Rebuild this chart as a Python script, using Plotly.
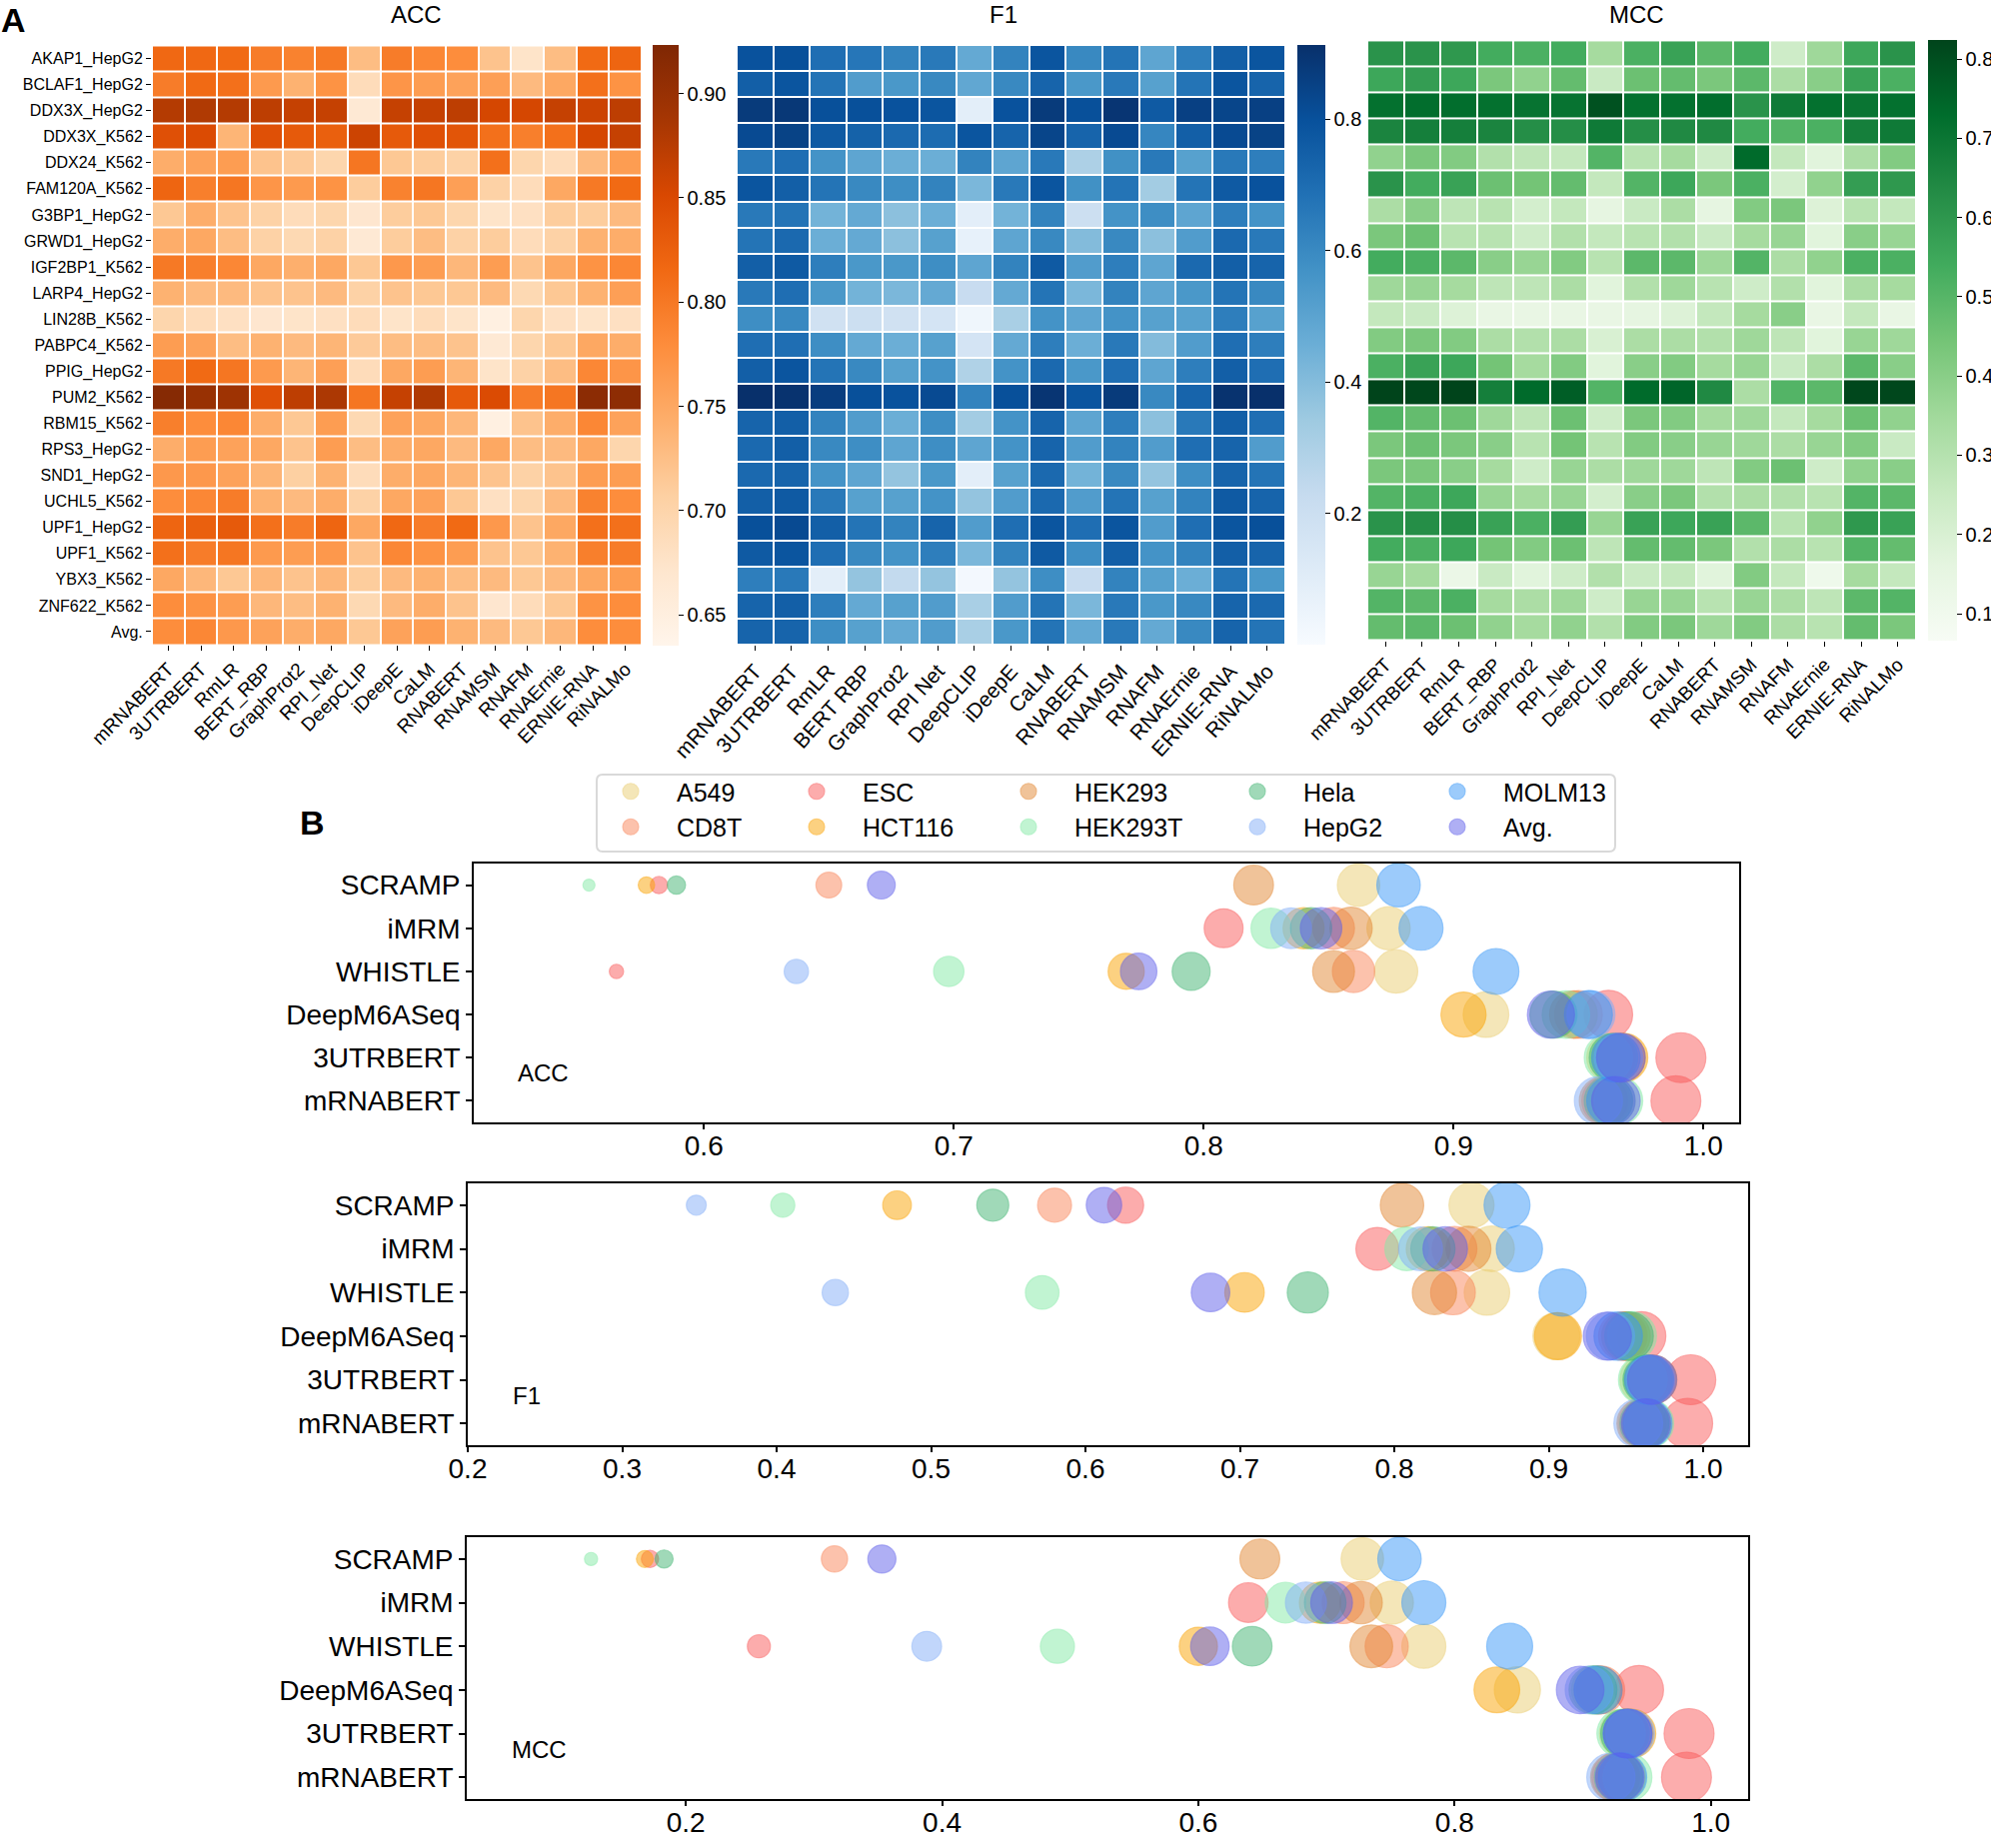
import math
import plotly.graph_objects as go
from plotly.colors import sequential

W, H = 1992, 1849
FONT = "Liberation Sans, Arial, sans-serif"


def fx(px):
    return px / W


def fy(py):
    return 1 - py / H


# ---------------- Panel A data ----------------
rbp_labels = ["AKAP1_HepG2", "BCLAF1_HepG2", "DDX3X_HepG2", "DDX3X_K562", "DDX24_K562",
              "FAM120A_K562", "G3BP1_HepG2", "GRWD1_HepG2", "IGF2BP1_K562", "LARP4_HepG2",
              "LIN28B_K562", "PABPC4_K562", "PPIG_HepG2", "PUM2_K562", "RBM15_K562",
              "RPS3_HepG2", "SND1_HepG2", "UCHL5_K562", "UPF1_HepG2", "UPF1_K562",
              "YBX3_K562", "ZNF622_K562", "Avg."]
hm_methods = ["mRNABERT", "3UTRBERT", "RmLR", "BERT_RBP", "GraphProt2", "RPI_Net", "DeepCLIP",
              "iDeepE", "CaLM", "RNABERT", "RNAMSM", "RNAFM", "RNAErnie", "ERNIE-RNA", "RiNALMo"]
# the F1 panel prints these names with a space instead of the underscore
hm_methods_f1_text = ["mRNABERT", "3UTRBERT", "RmLR", "BERT RBP", "GraphProt2", "RPI Net",
                      "DeepCLIP", "iDeepE", "CaLM", "RNABERT", "RNAMSM", "RNAFM", "RNAErnie",
                      "ERNIE-RNA", "RiNALMo"]

acc_hm = [
    [0.816, 0.816, 0.814, 0.796, 0.790, 0.799, 0.727, 0.796, 0.785, 0.779, 0.721, 0.675, 0.727, 0.814, 0.819],
    [0.796, 0.814, 0.808, 0.765, 0.739, 0.773, 0.687, 0.770, 0.762, 0.756, 0.759, 0.730, 0.750, 0.808, 0.773],
    [0.877, 0.880, 0.877, 0.871, 0.865, 0.865, 0.664, 0.865, 0.865, 0.871, 0.854, 0.854, 0.865, 0.860, 0.871],
    [0.842, 0.848, 0.736, 0.842, 0.831, 0.825, 0.860, 0.831, 0.842, 0.837, 0.808, 0.793, 0.808, 0.854, 0.865],
    [0.744, 0.756, 0.762, 0.721, 0.713, 0.698, 0.802, 0.716, 0.710, 0.704, 0.808, 0.698, 0.687, 0.730, 0.762],
    [0.819, 0.793, 0.802, 0.770, 0.765, 0.773, 0.710, 0.790, 0.802, 0.759, 0.704, 0.687, 0.750, 0.799, 0.814],
    [0.716, 0.744, 0.721, 0.704, 0.687, 0.698, 0.670, 0.710, 0.716, 0.698, 0.675, 0.681, 0.710, 0.710, 0.730],
    [0.744, 0.750, 0.727, 0.704, 0.693, 0.704, 0.664, 0.710, 0.727, 0.704, 0.710, 0.687, 0.704, 0.739, 0.744],
    [0.799, 0.793, 0.785, 0.750, 0.742, 0.750, 0.716, 0.767, 0.762, 0.733, 0.762, 0.721, 0.750, 0.773, 0.785],
    [0.739, 0.730, 0.730, 0.721, 0.721, 0.730, 0.704, 0.721, 0.716, 0.716, 0.730, 0.693, 0.716, 0.739, 0.759],
    [0.698, 0.687, 0.681, 0.670, 0.675, 0.681, 0.687, 0.675, 0.687, 0.675, 0.647, 0.698, 0.681, 0.675, 0.681],
    [0.762, 0.756, 0.727, 0.739, 0.730, 0.736, 0.713, 0.727, 0.727, 0.721, 0.664, 0.698, 0.716, 0.750, 0.744],
    [0.799, 0.814, 0.802, 0.765, 0.736, 0.759, 0.687, 0.750, 0.762, 0.736, 0.675, 0.704, 0.727, 0.785, 0.770],
    [0.917, 0.900, 0.894, 0.842, 0.871, 0.883, 0.802, 0.865, 0.880, 0.831, 0.848, 0.796, 0.802, 0.911, 0.909],
    [0.793, 0.779, 0.785, 0.744, 0.716, 0.762, 0.693, 0.756, 0.750, 0.733, 0.647, 0.721, 0.744, 0.785, 0.756],
    [0.744, 0.762, 0.756, 0.750, 0.721, 0.762, 0.727, 0.744, 0.750, 0.730, 0.750, 0.727, 0.730, 0.750, 0.698],
    [0.767, 0.767, 0.756, 0.736, 0.707, 0.739, 0.687, 0.744, 0.750, 0.736, 0.721, 0.704, 0.721, 0.762, 0.762],
    [0.779, 0.785, 0.796, 0.739, 0.730, 0.744, 0.704, 0.750, 0.756, 0.716, 0.681, 0.698, 0.730, 0.790, 0.779],
    [0.819, 0.825, 0.831, 0.808, 0.796, 0.819, 0.750, 0.816, 0.796, 0.814, 0.767, 0.721, 0.750, 0.808, 0.808],
    [0.808, 0.796, 0.802, 0.765, 0.762, 0.767, 0.721, 0.785, 0.773, 0.762, 0.721, 0.716, 0.739, 0.793, 0.796],
    [0.750, 0.733, 0.716, 0.733, 0.721, 0.733, 0.710, 0.730, 0.739, 0.727, 0.730, 0.716, 0.730, 0.750, 0.762],
    [0.779, 0.773, 0.762, 0.733, 0.727, 0.739, 0.693, 0.730, 0.744, 0.721, 0.670, 0.687, 0.716, 0.773, 0.779],
    [0.779, 0.785, 0.767, 0.756, 0.744, 0.750, 0.716, 0.756, 0.762, 0.739, 0.730, 0.716, 0.733, 0.779, 0.779],
]

f1_hm = [
    [0.794, 0.803, 0.694, 0.666, 0.621, 0.657, 0.475, 0.621, 0.785, 0.603, 0.676, 0.493, 0.639, 0.749, 0.785],
    [0.749, 0.785, 0.676, 0.530, 0.548, 0.603, 0.484, 0.603, 0.730, 0.548, 0.657, 0.511, 0.676, 0.785, 0.730],
    [0.876, 0.886, 0.803, 0.803, 0.794, 0.785, 0.091, 0.794, 0.876, 0.803, 0.895, 0.767, 0.858, 0.840, 0.858],
    [0.822, 0.849, 0.767, 0.740, 0.712, 0.703, 0.785, 0.730, 0.840, 0.730, 0.822, 0.612, 0.749, 0.822, 0.849],
    [0.657, 0.694, 0.566, 0.493, 0.457, 0.457, 0.621, 0.493, 0.657, 0.301, 0.575, 0.657, 0.511, 0.657, 0.639],
    [0.785, 0.749, 0.676, 0.603, 0.584, 0.621, 0.420, 0.657, 0.785, 0.575, 0.676, 0.329, 0.676, 0.767, 0.794],
    [0.657, 0.676, 0.438, 0.475, 0.383, 0.457, 0.091, 0.438, 0.621, 0.201, 0.566, 0.584, 0.493, 0.639, 0.566],
    [0.676, 0.712, 0.457, 0.475, 0.383, 0.511, 0.073, 0.493, 0.603, 0.402, 0.603, 0.383, 0.530, 0.712, 0.657],
    [0.749, 0.767, 0.639, 0.548, 0.548, 0.584, 0.493, 0.621, 0.767, 0.530, 0.639, 0.493, 0.712, 0.749, 0.730],
    [0.657, 0.694, 0.548, 0.438, 0.420, 0.475, 0.219, 0.475, 0.676, 0.420, 0.621, 0.493, 0.548, 0.676, 0.603],
    [0.584, 0.603, 0.183, 0.201, 0.183, 0.164, 0.037, 0.310, 0.566, 0.493, 0.566, 0.511, 0.511, 0.639, 0.511],
    [0.694, 0.694, 0.584, 0.475, 0.457, 0.511, 0.164, 0.475, 0.639, 0.457, 0.657, 0.402, 0.530, 0.694, 0.639],
    [0.749, 0.785, 0.676, 0.603, 0.511, 0.566, 0.292, 0.566, 0.712, 0.548, 0.694, 0.493, 0.639, 0.749, 0.694],
    [0.913, 0.904, 0.867, 0.803, 0.794, 0.822, 0.621, 0.803, 0.895, 0.785, 0.876, 0.603, 0.730, 0.904, 0.913],
    [0.730, 0.749, 0.621, 0.530, 0.457, 0.584, 0.329, 0.566, 0.730, 0.493, 0.639, 0.383, 0.657, 0.749, 0.694],
    [0.712, 0.749, 0.603, 0.584, 0.493, 0.584, 0.493, 0.566, 0.730, 0.530, 0.621, 0.530, 0.694, 0.730, 0.530],
    [0.712, 0.730, 0.566, 0.493, 0.365, 0.548, 0.091, 0.511, 0.712, 0.438, 0.603, 0.365, 0.584, 0.730, 0.676],
    [0.749, 0.767, 0.657, 0.511, 0.511, 0.566, 0.365, 0.530, 0.712, 0.530, 0.676, 0.511, 0.621, 0.767, 0.730],
    [0.803, 0.822, 0.749, 0.676, 0.621, 0.730, 0.530, 0.694, 0.785, 0.694, 0.785, 0.530, 0.694, 0.785, 0.803],
    [0.767, 0.785, 0.694, 0.603, 0.566, 0.639, 0.420, 0.621, 0.767, 0.584, 0.749, 0.566, 0.621, 0.749, 0.730],
    [0.639, 0.657, 0.091, 0.365, 0.237, 0.365, 0.018, 0.365, 0.584, 0.219, 0.621, 0.511, 0.457, 0.676, 0.548],
    [0.730, 0.749, 0.639, 0.475, 0.511, 0.530, 0.310, 0.530, 0.676, 0.420, 0.657, 0.548, 0.603, 0.730, 0.712],
    [0.730, 0.730, 0.584, 0.511, 0.475, 0.530, 0.310, 0.548, 0.676, 0.475, 0.657, 0.475, 0.603, 0.730, 0.676],
]

mcc_hm = [
    [0.612, 0.612, 0.597, 0.536, 0.521, 0.536, 0.339, 0.521, 0.566, 0.490, 0.536, 0.233, 0.354, 0.551, 0.612],
    [0.551, 0.581, 0.551, 0.430, 0.384, 0.475, 0.248, 0.460, 0.475, 0.430, 0.490, 0.324, 0.400, 0.566, 0.521],
    [0.718, 0.725, 0.725, 0.718, 0.710, 0.710, 0.794, 0.718, 0.718, 0.725, 0.612, 0.688, 0.718, 0.703, 0.718],
    [0.657, 0.672, 0.672, 0.657, 0.627, 0.627, 0.688, 0.627, 0.642, 0.642, 0.536, 0.506, 0.521, 0.672, 0.688],
    [0.384, 0.430, 0.415, 0.309, 0.278, 0.263, 0.506, 0.293, 0.339, 0.233, 0.733, 0.263, 0.172, 0.324, 0.415],
    [0.612, 0.536, 0.566, 0.460, 0.445, 0.475, 0.263, 0.506, 0.551, 0.430, 0.521, 0.218, 0.384, 0.581, 0.597],
    [0.324, 0.400, 0.278, 0.293, 0.218, 0.263, 0.157, 0.248, 0.324, 0.157, 0.415, 0.430, 0.187, 0.293, 0.263],
    [0.430, 0.460, 0.293, 0.293, 0.233, 0.309, 0.263, 0.293, 0.309, 0.248, 0.339, 0.369, 0.172, 0.400, 0.369],
    [0.536, 0.521, 0.490, 0.400, 0.369, 0.415, 0.293, 0.490, 0.490, 0.354, 0.506, 0.324, 0.384, 0.521, 0.521],
    [0.354, 0.369, 0.339, 0.278, 0.278, 0.324, 0.172, 0.309, 0.354, 0.293, 0.233, 0.309, 0.172, 0.324, 0.339],
    [0.263, 0.248, 0.187, 0.142, 0.142, 0.142, 0.142, 0.157, 0.187, 0.263, 0.339, 0.400, 0.142, 0.263, 0.142],
    [0.415, 0.430, 0.415, 0.324, 0.309, 0.324, 0.202, 0.324, 0.324, 0.309, 0.354, 0.278, 0.172, 0.369, 0.354],
    [0.521, 0.566, 0.551, 0.445, 0.339, 0.415, 0.172, 0.400, 0.415, 0.339, 0.369, 0.248, 0.324, 0.490, 0.400],
    [0.824, 0.816, 0.824, 0.672, 0.733, 0.763, 0.506, 0.733, 0.748, 0.642, 0.324, 0.506, 0.490, 0.816, 0.816],
    [0.506, 0.475, 0.460, 0.354, 0.278, 0.460, 0.233, 0.430, 0.415, 0.339, 0.354, 0.263, 0.339, 0.460, 0.384],
    [0.430, 0.460, 0.430, 0.400, 0.293, 0.445, 0.293, 0.415, 0.400, 0.369, 0.354, 0.324, 0.369, 0.415, 0.248],
    [0.430, 0.430, 0.400, 0.339, 0.233, 0.369, 0.324, 0.354, 0.354, 0.278, 0.415, 0.460, 0.233, 0.384, 0.400],
    [0.506, 0.521, 0.551, 0.369, 0.339, 0.369, 0.218, 0.400, 0.430, 0.309, 0.324, 0.309, 0.293, 0.506, 0.490],
    [0.612, 0.627, 0.627, 0.566, 0.521, 0.581, 0.369, 0.566, 0.551, 0.566, 0.490, 0.293, 0.384, 0.597, 0.566],
    [0.536, 0.521, 0.551, 0.445, 0.415, 0.460, 0.278, 0.475, 0.475, 0.430, 0.309, 0.324, 0.293, 0.506, 0.475],
    [0.369, 0.339, 0.127, 0.248, 0.172, 0.233, 0.309, 0.248, 0.263, 0.172, 0.415, 0.263, 0.111, 0.339, 0.263],
    [0.506, 0.490, 0.521, 0.339, 0.324, 0.354, 0.233, 0.369, 0.369, 0.293, 0.369, 0.324, 0.278, 0.490, 0.506],
    [0.475, 0.490, 0.460, 0.384, 0.339, 0.384, 0.309, 0.415, 0.430, 0.354, 0.415, 0.324, 0.293, 0.475, 0.430],
]

acc_ticks = [0.65, 0.70, 0.75, 0.80, 0.85, 0.90]
f1_ticks = [0.2, 0.4, 0.6, 0.8]
mcc_ticks = [0.1, 0.2, 0.3, 0.4, 0.5, 0.6, 0.7, 0.8]

# ---------------- Panel B data ----------------
cell_lines = ["A549", "CD8T", "ESC", "HCT116", "HEK293", "HEK293T", "Hela", "HepG2", "MOLM13", "Avg."]
b_methods = ["mRNABERT", "3UTRBERT", "DeepM6ASeq", "WHISTLE", "iMRM", "SCRAMP"]

# rows follow b_methods, columns follow cell_lines
acc_b = [
    [0.962, 0.961, 0.989, 0.963, 0.960, 0.966, 0.962, 0.958, 0.963, 0.965],
    [0.963, 0.965, 0.991, 0.968, 0.967, 0.962, 0.964, 0.966, 0.965, 0.967],
    [0.913, 0.950, 0.962, 0.904, 0.948, 0.945, 0.940, 0.955, 0.954, 0.939],
    [0.877, 0.860, 0.565, 0.769, 0.852, 0.698, 0.795, 0.637, 0.917, 0.774],
    [0.874, 0.852, 0.808, 0.840, 0.859, 0.827, 0.843, 0.835, 0.887, 0.847],
    [0.862, 0.650, 0.582, 0.577, 0.820, 0.554, 0.589, 0.527, 0.878, 0.671],
]
f1_b = [
    [0.961, 0.962, 0.990, 0.963, 0.960, 0.965, 0.962, 0.958, 0.964, 0.963],
    [0.962, 0.966, 0.992, 0.967, 0.965, 0.961, 0.964, 0.966, 0.965, 0.967],
    [0.905, 0.948, 0.960, 0.906, 0.950, 0.954, 0.952, 0.940, 0.945, 0.938],
    [0.860, 0.838, 0.226, 0.703, 0.826, 0.572, 0.744, 0.438, 0.909, 0.681],
    [0.863, 0.839, 0.789, 0.822, 0.848, 0.808, 0.825, 0.817, 0.881, 0.833],
    [0.850, 0.580, 0.626, 0.478, 0.805, 0.404, 0.540, 0.348, 0.873, 0.612],
]
mcc_b = [
    [0.928, 0.926, 0.981, 0.930, 0.925, 0.935, 0.928, 0.922, 0.931, 0.929],
    [0.932, 0.936, 0.983, 0.938, 0.936, 0.930, 0.933, 0.937, 0.935, 0.935],
    [0.849, 0.914, 0.944, 0.833, 0.912, 0.910, 0.908, 0.905, 0.912, 0.898],
    [0.776, 0.747, 0.257, 0.600, 0.735, 0.490, 0.642, 0.388, 0.843, 0.609],
    [0.751, 0.713, 0.639, 0.695, 0.727, 0.668, 0.699, 0.684, 0.776, 0.704],
    [0.728, 0.316, 0.172, 0.168, 0.648, 0.126, 0.183, 0.062, 0.757, 0.353],
]

cell_colors = {
    "A549": "#EACD70", "CD8T": "#F98458", "ESC": "#F95858", "HCT116": "#FBA200",
    "HEK293": "#E28630", "HEK293T": "#83EAA5", "Hela": "#3EB470", "HepG2": "#83AEF8",
    "MOLM13": "#3797F8", "Avg.": "#5E5EEA",
}
ALPHA = 0.7
MAX_D = 50


def rgba(hexc, a):
    h = hexc.lstrip("#")
    return "rgba(%d,%d,%d,%.2f)" % (int(h[0:2], 16), int(h[2:4], 16), int(h[4:6], 16), a)


fig = go.Figure()


def cbar(x0, y0, y1, thick, tvals, fmt):
    return dict(x=fx(x0), xanchor="left", xpad=0, ypad=0, y=fy(y0), yanchor="top",
                len=y1 - y0, lenmode="pixels", thickness=thick, thicknessmode="pixels",
                outlinewidth=0, ticks="outside", ticklen=5, tickwidth=1, tickcolor="black",
                tickvals=tvals, ticktext=[fmt % v for v in tvals],
                tickfont=dict(size=20, family=FONT, color="black"))


fig.add_trace(go.Heatmap(z=acc_hm, x=hm_methods, y=rbp_labels, colorscale=sequential.Oranges,
                         zmin=0.635, zmax=0.923, xgap=2, ygap=2, xaxis="x", yaxis="y",
                         colorbar=cbar(653, 45.5, 646, 26, acc_ticks, "%.2f")))
fig.add_trace(go.Heatmap(z=f1_hm, x=hm_methods, y=rbp_labels, colorscale=sequential.Blues,
                         zmin=0.0, zmax=0.913, xgap=2, ygap=2, xaxis="x2", yaxis="y2",
                         colorbar=cbar(1298, 45, 645, 28, f1_ticks, "%.1f")))
fig.add_trace(go.Heatmap(z=mcc_hm, x=hm_methods, y=rbp_labels, colorscale=sequential.Greens,
                         zmin=0.066, zmax=0.824, xgap=2, ygap=2, xaxis="x3", yaxis="y3",
                         colorbar=cbar(1929, 40, 641, 29, mcc_ticks, "%.1f")))

legend_cols = {"A549": "legend", "CD8T": "legend", "ESC": "legend2", "HCT116": "legend2",
               "HEK293": "legend3", "HEK293T": "legend3", "Hela": "legend4", "HepG2": "legend4",
               "MOLM13": "legend5", "Avg.": "legend5"}

panels = [(acc_b, "x4", "y4"), (f1_b, "x5", "y5"), (mcc_b, "x6", "y6")]
for pi, (data, xa, ya) in enumerate(panels):
    flat = [v for row in data for v in row]
    vmin, vmax = min(flat), max(flat)
    for j, cl in enumerate(cell_lines):
        xs = [data[i][j] for i in range(len(b_methods))]
        sizes = [MAX_D * math.sqrt(max(0.0, (v - vmin) / (vmax - vmin))) for v in xs]
        col = cell_colors[cl]
        fig.add_trace(go.Scatter(
            x=xs, y=b_methods, mode="markers", name=cl, legendgroup=cl,
            legend=legend_cols[cl], showlegend=(pi == 0), xaxis=xa, yaxis=ya,
            marker=dict(size=sizes, sizemode="diameter", color=rgba(col, ALPHA),
                        line=dict(width=1.2, color=rgba(col, ALPHA)))))

tickfont_h = dict(size=16, family=FONT, color="black")


def heat_x(d0, d1, anchor, fsize=19, angle=-45, ticktext=None):
    d = dict(domain=[fx(d0), fx(d1)], anchor=anchor, tickangle=angle, ticks="outside",
             ticklen=5, tickwidth=1, tickcolor="black", showgrid=False, zeroline=False,
             showline=False, tickfont=dict(size=fsize, family=FONT, color="black"),
             automargin=False)
    if ticktext is not None:
        d["tickvals"] = hm_methods
        d["ticktext"] = ticktext
    return d


def heat_y(d0, d1, anchor, labels):
    return dict(domain=[fy(d1), fy(d0)], anchor=anchor, autorange="reversed",
                ticks="outside" if labels else "", ticklen=5, tickwidth=1, tickcolor="black",
                showticklabels=labels, showgrid=False, zeroline=False, showline=False,
                tickfont=tickfont_h, automargin=False)


bfont = dict(size=28, family=FONT, color="black")


def bub_x(d0, d1, anchor, rng, tvals, fmt):
    return dict(domain=[fx(d0), fx(d1)], anchor=anchor, range=rng, tickvals=tvals,
                ticktext=[fmt % v for v in tvals], ticks="outside", ticklen=5, tickwidth=1.5,
                tickcolor="black", showline=True, linecolor="black", linewidth=1.8, mirror=True,
                showgrid=False, zeroline=False, tickfont=bfont, automargin=False,
                ticklabelstandoff=-8)


def bub_y(d0, d1, anchor):
    return dict(domain=[fy(d1), fy(d0)], anchor=anchor, type="category",
                categoryorder="array", categoryarray=b_methods, range=[-0.5, 5.5],
                ticks="outside", ticklen=6, tickwidth=1.5, tickcolor="black", showline=True,
                linecolor="black", linewidth=1.8, mirror=True, showgrid=False,
                zeroline=False, tickfont=bfont, automargin=False)


col_marker_x = [631, 817, 1029, 1258, 1458]
ITEMW = 82
legends = {}
for k, mx in enumerate(col_marker_x):
    name = "legend" if k == 0 else "legend%d" % (k + 1)
    legends[name] = dict(x=fx(mx - (ITEMW + 10) / 2), xanchor="left", y=fy(769), yanchor="top",
                         orientation="v", bgcolor="rgba(0,0,0,0)", borderwidth=0,
                         font=dict(size=25, family=FONT, color="black"),
                         itemsizing="trace", itemwidth=ITEMW, tracegroupgap=3,
                         traceorder="normal")


def rounded_rect(x0, y0, x1, y1, r):
    rx, ry = r / W, r / H
    X0, X1 = fx(x0), fx(x1)
    Y0, Y1 = fy(y0), fy(y1)
    return ("M %f,%f L %f,%f Q %f,%f %f,%f L %f,%f Q %f,%f %f,%f L %f,%f Q %f,%f %f,%f "
            "L %f,%f Q %f,%f %f,%f Z") % (
        X0 + rx, Y0, X1 - rx, Y0, X1, Y0, X1, Y0 - ry, X1, Y1 + ry, X1, Y1, X1 - rx, Y1,
        X0 + rx, Y1, X0, Y1, X0, Y1 + ry, X0, Y0 - ry, X0, Y0, X0 + rx, Y0)


annotations = [
    dict(text="<b>A</b>", x=fx(0), y=fy(0), xanchor="left", yanchor="top",
         font=dict(size=34, family=FONT, color="black")),
    dict(text="<b>B</b>", x=fx(299), y=fy(823), xanchor="left", yanchor="middle",
         font=dict(size=34, family=FONT, color="black")),
    dict(text="ACC", x=fx(416), y=fy(0), xanchor="center", yanchor="top",
         font=dict(size=24, family=FONT, color="black")),
    dict(text="F1", x=fx(1004), y=fy(0), xanchor="center", yanchor="top",
         font=dict(size=24, family=FONT, color="black")),
    dict(text="MCC", x=fx(1637), y=fy(0), xanchor="center", yanchor="top",
         font=dict(size=24, family=FONT, color="black")),
]
for lab, xr, yr in [("ACC", "x4", "y4"), ("F1", "x5", "y5"), ("MCC", "x6", "y6")]:
    annotations.append(dict(text=lab, xref=xr + " domain", yref=yr + " domain", x=0.034,
                            y=0.19, xanchor="left", yanchor="middle", showarrow=False,
                            font=dict(size=24, family=FONT, color="black")))
for a in annotations:
    a.setdefault("xref", "paper")
    a.setdefault("yref", "paper")
    a["showarrow"] = False
    a["borderpad"] = 0

layout = dict(
    width=W, height=H, margin=dict(l=0, r=0, t=0, b=0, autoexpand=False),
    paper_bgcolor="white", plot_bgcolor="white",
    font=dict(family=FONT, color="black"),
    xaxis=heat_x(152, 642, "y"), yaxis=heat_y(45.5, 645, "x", True),
    xaxis2=heat_x(737, 1286, "y2", fsize=21, angle=-48, ticktext=hm_methods_f1_text),
    yaxis2=heat_y(45, 645, "x2", False),
    xaxis3=heat_x(1368, 1917, "y3"), yaxis3=heat_y(40.4, 640.6, "x3", False),
    xaxis4=bub_x(474, 1740, "y4", [0.5079, 1.0143], [0.6, 0.7, 0.8, 0.9, 1.0], "%.1f"),
    yaxis4=bub_y(864, 1123, "x4"),
    xaxis5=bub_x(468, 1748.5, "y5", [0.2, 1.0288], [0.2, 0.3, 0.4, 0.5, 0.6, 0.7, 0.8, 0.9, 1.0], "%.1f"),
    yaxis5=bub_y(1184, 1446, "x5"),
    xaxis6=bub_x(467, 1748.5, "y6", [0.029, 1.0287], [0.2, 0.4, 0.6, 0.8, 1.0], "%.1f"),
    yaxis6=bub_y(1538, 1800, "x6"),
    annotations=annotations,
    shapes=[dict(type="path", xref="paper", yref="paper",
                 path=rounded_rect(597, 775, 1616, 852, 6),
                 line=dict(color="#d9d9d9", width=2), fillcolor="rgba(255,255,255,0.8)",
                 layer="below")],
)
layout.update(legends)
fig.update_layout(**layout)

fig.write_html("out.html")
